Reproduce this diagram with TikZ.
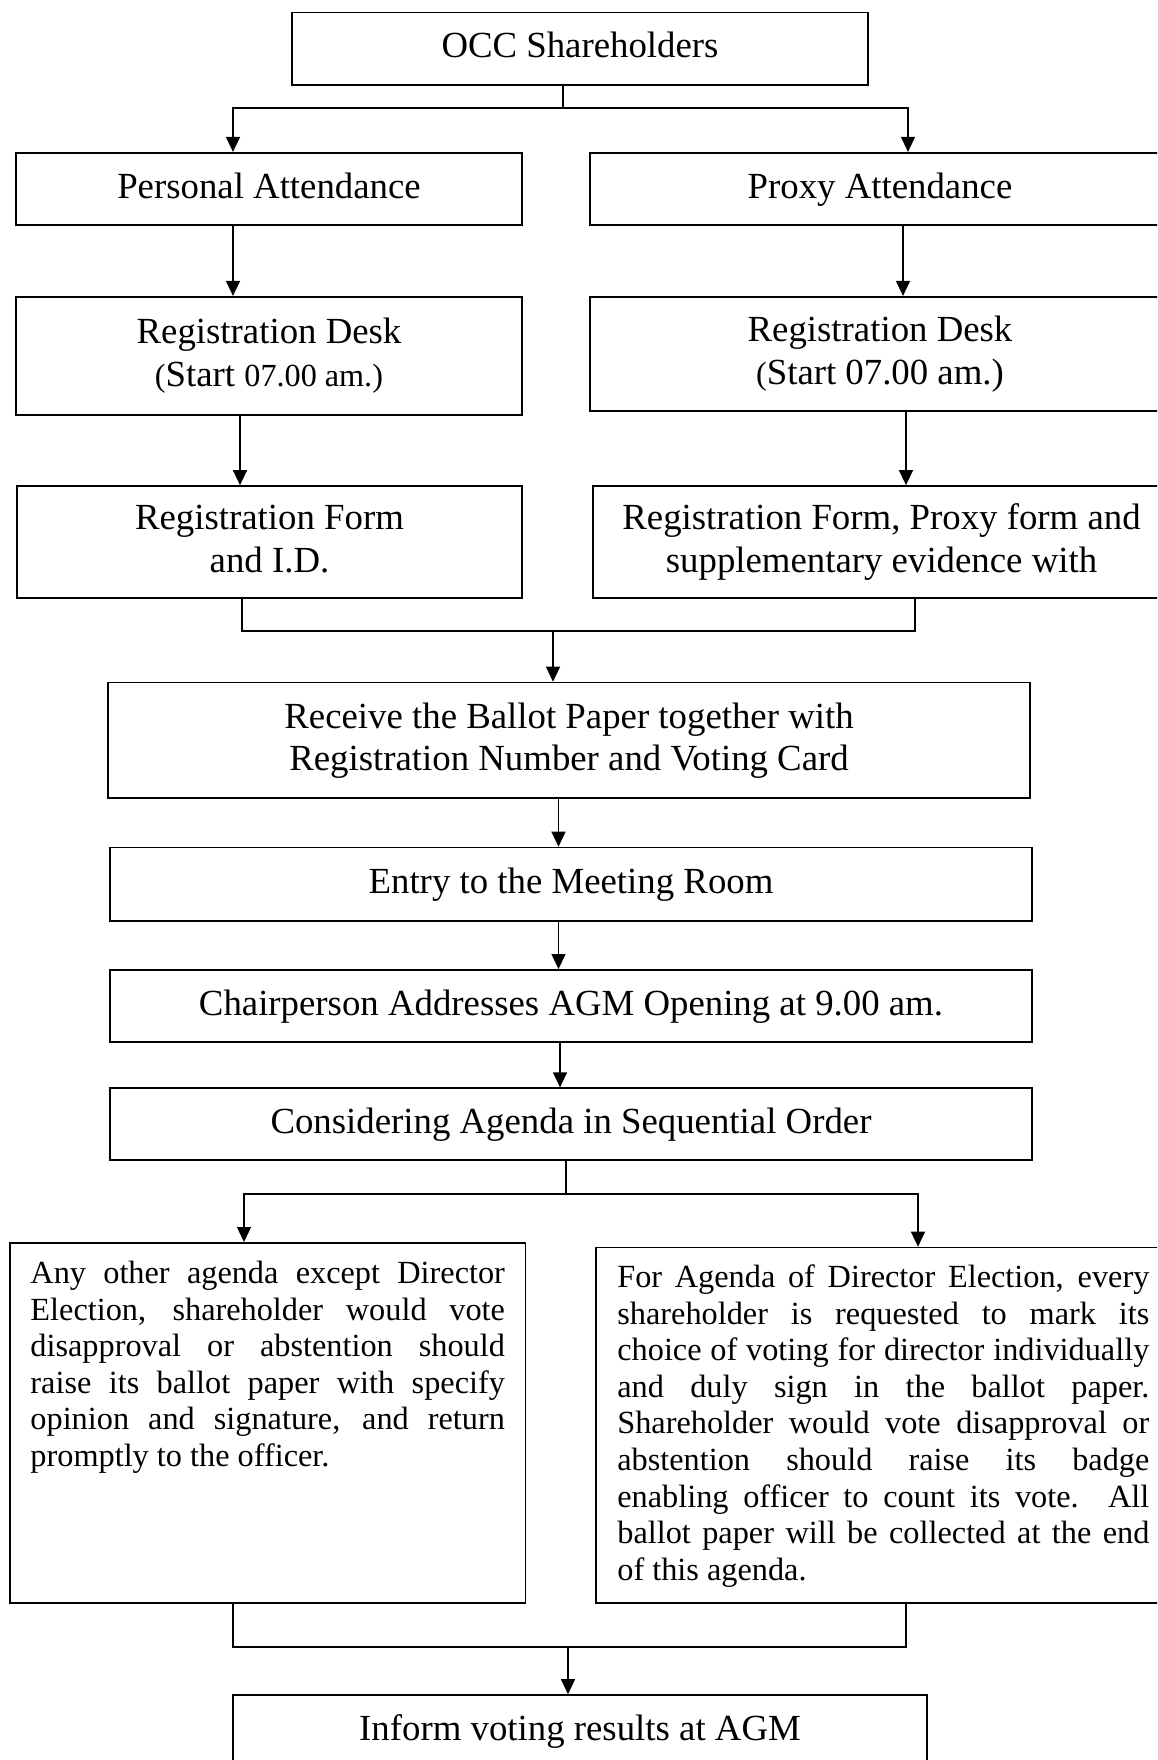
\documentclass[tikz,border=0pt]{standalone}
\usepackage{fontspec}
\setmainfont{Liberation Serif}
\usetikzlibrary{arrows.meta}
\newcommand\mysmall{\fontsize{32.2pt}{42.5pt}\selectfont}
\newcommand\topst{\rule{0pt}{27pt}}
\newcommand\botst{\rule[-8.6pt]{0pt}{8.6pt}}
\begin{document}
\begin{tikzpicture}[x=1pt,y=-1pt,
  box/.style={draw, line width=1.7pt, rectangle, inner sep=0pt, align=center,
    font=\fontsize{36.8pt}{42.5pt}\selectfont},
  onebox/.style={box, text height=27pt, text depth=8.6pt},
  lowbox/.style={draw, line width=1.7pt, rectangle, inner sep=0pt, anchor=north west,
    font=\fontsize{32.3pt}{36.6pt}\selectfont},
  conn/.style={line width=1.3pt},
  arr/.style={conn, -{Triangle[length=15pt,width=14pt]}},
]
\clip (0,0) rectangle (1157,1760);
\fill[white] (0,0) rectangle (1157,1760);

% boxes
\node[onebox, minimum width=576pt, minimum height=72.3pt] (occ) at (580,48.8) {OCC Shareholders};
\node[onebox, minimum width=506pt, minimum height=72.3pt] (pers) at (269,188.9) {Personal Attendance};
\node[onebox, minimum width=580pt, minimum height=72.3pt] (prox) at (880,188.9) {Proxy Attendance};
\node[box, minimum width=506pt, minimum height=118.3pt] (desk1) at (269,355.9)
  {\topst Registration Desk\\{\mysmall(}Start {\mysmall 07.00 am.)}\botst};
\node[box, minimum width=580pt, minimum height=114.3pt] (desk2) at (880,353.9)
  {\topst Registration Desk\\{\mysmall(}Start 07.00 am.)\botst};
\node[box, minimum width=505pt, minimum height=112pt] (form1) at (269.5,542)
  {\topst Registration Form\\and I.D.\botst};
\node[box, minimum width=577pt, minimum height=112pt] (form2) at (881.5,542)
  {\topst Registration Form, Proxy form and\\supplementary evidence with\botst};
\node[box, minimum width=922pt, minimum height=115.5pt] (recv) at (569,740.3)
  {\topst Receive the Ballot Paper together with\\Registration Number and Voting Card\botst};
\node[onebox, minimum width=922pt, minimum height=73.3pt] (entry) at (571,884.2)
  {Entry to the Meeting Room};
\node[onebox, minimum width=922pt, minimum height=72pt] (chair) at (571,1005.9)
  {Chairperson Addresses AGM Opening at 9.00 am.};
\node[onebox, minimum width=922pt, minimum height=72pt] (cons) at (571,1124.2)
  {Considering Agenda in Sequential Order};
\node[lowbox, minimum width=515.7pt] (other) at (9,1242)
  {\parbox[c][360.3pt][t]{474.5pt}{%
   \rule{0pt}{40.7pt}\makebox[474.5pt][s]{Any other agenda except Director}\\
   \makebox[474.5pt][s]{Election, shareholder would vote}\\
   \makebox[474.5pt][s]{disapproval or abstention should}\\
   \makebox[474.5pt][s]{raise its ballot paper with specify}\\
   \makebox[474.5pt][s]{opinion and signature, and return}\\
   promptly to the officer.}};
\node[lowbox, minimum width=575pt] (dir) at (595,1246.7)
  {\parbox[c][355.6pt][t]{532pt}{%
   \rule{0pt}{40pt}\makebox[532pt][s]{For Agenda of Director Election, every}\\
   \makebox[532pt][s]{shareholder is requested to mark its}\\
   \makebox[532pt][s]{choice of voting for director individually}\\
   \makebox[532pt][s]{and duly sign in the ballot paper.}\\
   \makebox[532pt][s]{Shareholder would vote disapproval or}\\
   \makebox[532pt][s]{abstention should raise its badge}\\
   \makebox[532pt][s]{enabling officer to count its vote.\ \ All}\\
   \makebox[532pt][s]{ballot paper will be collected at the end}\\
   of this agenda.}};
\node[onebox, minimum width=694pt, minimum height=72pt] (inform) at (580,1731)
  {Inform voting results at AGM};

% connector coordinates
\coordinate (j1) at (563,108);
\coordinate (aL) at (233,108);
\coordinate (aR) at (908,108);
\coordinate (bL) at (233,0);
\coordinate (bR) at (903,0);
\coordinate (cL) at (240,0);
\coordinate (cR) at (906,0);
\coordinate (dL) at (242,631);
\coordinate (dR) at (915,631);
\coordinate (j2) at (553,631);
\coordinate (e1) at (558.5,0);
\coordinate (e2) at (560,0);
\coordinate (j3) at (566,1194);
\coordinate (fL) at (244,1194);
\coordinate (fR) at (918,1194);
\coordinate (gL) at (233,1647);
\coordinate (gR) at (906,1647);
\coordinate (j4) at (568,1647);

% connectors
\draw[conn] (occ.south -| j1) -- (j1);
\draw[arr] (j1) -- (aL) -- (pers.north -| aL);
\draw[arr] (j1) -- (aR) -- (prox.north -| aR);
\draw[arr] (pers.south -| bL) -- (desk1.north -| bL);
\draw[arr] (prox.south -| bR) -- (desk2.north -| bR);
\draw[arr] (desk1.south -| cL) -- (form1.north -| cL);
\draw[arr] (desk2.south -| cR) -- (form2.north -| cR);
\draw[conn] (form1.south -| dL) -- (dL) -- (dR) -- (form2.south -| dR);
\draw[arr] (j2) -- (recv.north -| j2);
\draw[arr] (recv.south -| e1) -- (entry.north -| e1);
\draw[arr] (entry.south -| e1) -- (chair.north -| e1);
\draw[arr] (chair.south -| e2) -- (cons.north -| e2);
\draw[conn] (cons.south -| j3) -- (j3);
\draw[arr] (j3) -- (fL) -- (other.north -| fL);
\draw[arr] (j3) -- (fR) -- (dir.north -| fR);
\draw[conn] (other.south -| gL) -- (gL) -- (gR) -- (dir.south -| gR);
\draw[arr] (j4) -- (inform.north -| j4);
\end{tikzpicture}
\end{document}
